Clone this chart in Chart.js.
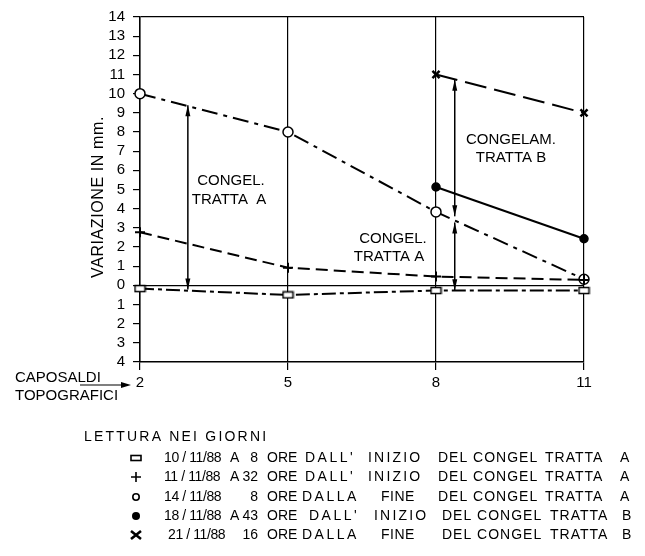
<!DOCTYPE html>
<html>
<head>
<meta charset="utf-8">
<script src="https://cdn.jsdelivr.net/npm/chart.js@4/dist/chart.umd.min.js"></script>
<style>
  html, body { margin: 0; padding: 0; background: #fff; }
  .canvas { width: 645px; height: 556px; }
</style>
</head>
<body>
<div class="canvas"><canvas id="chart" width="645" height="556"></canvas></div>
<script>
// caposaldi topografici (x positions)
const benchmarks = [2, 5, 8, 11]

// variazione in mm. (negative = below the zero line)
const read101188 = [-0.17, -0.5, -0.27, -0.27]
const read111188 = [2.77, 0.92, 0.46, 0.28]
const read141188 = [10, 8, 3.83, 0.32]
const read181188 = [null, null, 5.13, 2.43]
const read211188 = [null, null, 11, 9]

const yTicksMin = -4
const yTicksMax = 14

const legendTitle = 'LETTURA NEI GIORNI'
const legendDates = ['10 / 11/88', '11 / 11/88', '14 / 11/88', '18 / 11/88', '21 / 11/88']
const legendPrefix = ['A', 'A', '', 'A', '']
const legendHours = ['8', '32', '8', '43', '16']
const legendFrom = ["DALL'", "DALL'", 'DALLA', "DALL'", 'DALLA']
const legendWhen = ['INIZIO', 'INIZIO', 'FINE', 'INIZIO', 'FINE']
const legendTratta = ['A', 'A', 'A', 'B', 'B']

const FONT = '"Liberation Sans", Arial, sans-serif'

const toPoints = (vals) => benchmarks
  .map((x, i) => ({ x, y: vals[i] }))
  .filter(p => p.y !== null)

// flat hollow rectangle marker
const rectMarker = (() => {
  const c = document.createElement('canvas')
  c.width = 13
  c.height = 9
  const g = c.getContext('2d')
  g.fillStyle = '#fff'
  g.fillRect(1, 1, 11, 7)
  g.strokeStyle = '#000'
  g.lineWidth = 1.5
  g.strokeRect(1.5, 1.5, 10, 6)
  return c
})()

const arrowHead = (ctx, x, y, dir) => {
  // dir: -1 = pointing up, 1 = pointing down
  ctx.beginPath()
  ctx.moveTo(x, y)
  ctx.lineTo(x - 2.5, y - dir * 11)
  ctx.lineTo(x + 2.5, y - dir * 11)
  ctx.closePath()
  ctx.fill()
}

const drawArrow = (ctx, xs, ys, x, yTop, yBot) => {
  const px = xs.getPixelForValue(x)
  const t = ys.getPixelForValue(yTop)
  const b = ys.getPixelForValue(yBot)
  ctx.beginPath()
  ctx.moveTo(px, t)
  ctx.lineTo(px, b)
  ctx.stroke()
  arrowHead(ctx, px, t, -1)
  arrowHead(ctx, px, b, 1)
}

const spaced = (ctx, text, x, y, sp) => {
  ctx.letterSpacing = sp + 'px'
  ctx.fillText(text, x, y)
  ctx.letterSpacing = '0px'
}

function drawSymbol (ctx, i, x, y) {
  ctx.save()
  ctx.lineWidth = 1.6
  ctx.beginPath()
  if (i === 0) {
    ctx.strokeRect(x - 5, y - 2.5, 10, 5)
  } else if (i === 1) {
    ctx.moveTo(x - 5, y); ctx.lineTo(x + 5, y)
    ctx.moveTo(x, y - 5); ctx.lineTo(x, y + 5)
    ctx.stroke()
  } else if (i === 2) {
    ctx.arc(x, y, 3.2, 0, Math.PI * 2)
    ctx.stroke()
  } else if (i === 3) {
    ctx.arc(x, y, 4, 0, Math.PI * 2)
    ctx.fill()
  } else {
    ctx.lineWidth = 2.6
    ctx.moveTo(x - 5, y - 4); ctx.lineTo(x + 5, y + 4)
    ctx.moveTo(x + 5, y - 4); ctx.lineTo(x - 5, y + 4)
    ctx.stroke()
  }
  ctx.restore()
}

const extras = {
  id: 'extras',
  afterDraw (chart) {
    const ctx = chart.ctx
    const xs = chart.scales.x
    const ys = chart.scales.y
    ctx.save()
    ctx.fillStyle = '#000'
    ctx.strokeStyle = '#000'
    ctx.lineWidth = 1.5

    // arrows
    drawArrow(ctx, xs, ys, 2.97, 9.4, -0.22)
    drawArrow(ctx, xs, ys, 8.38, 10.72, 3.6)
    drawArrow(ctx, xs, ys, 8.38, 3.28, -0.25)

    // labels inside the plot
    ctx.font = '15px ' + FONT
    ctx.textAlign = 'center'
    ctx.textBaseline = 'middle'
    ctx.fillText('CONGEL.', 231, 181)
    ctx.fillText('TRATTA  A', 229, 200)
    ctx.fillText('CONGELAM.', 511, 140)
    ctx.fillText('TRATTA B', 511, 158)
    ctx.fillText('CONGEL.', 393, 239)
    ctx.fillText('TRATTA A', 389, 257)

    // y title
    ctx.save()
    ctx.translate(99, 197)
    ctx.rotate(-Math.PI / 2)
    ctx.font = '16px ' + FONT
    spaced(ctx, 'VARIAZIONE IN mm.', 0, 0, 0.6)
    ctx.restore()

    // x title
    ctx.textAlign = 'left'
    ctx.font = '15px ' + FONT
    ctx.fillText('CAPOSALDI', 15, 378)
    ctx.fillText('TOPOGRAFICI', 15, 396)
    ctx.lineWidth = 1.2
    ctx.beginPath()
    ctx.moveTo(80, 385)
    ctx.lineTo(124, 385)
    ctx.stroke()
    ctx.beginPath()
    ctx.moveTo(131, 385)
    ctx.lineTo(121, 382)
    ctx.lineTo(121, 388)
    ctx.closePath()
    ctx.fill()

    // legend
    ctx.font = '14px ' + FONT
    spaced(ctx, legendTitle, 84, 437, 2.2)
    const rowY = [458, 477, 497, 516, 535]
    legendDates.forEach((d, i) => {
      const y = rowY[i]
      const late = i >= 3
      drawSymbol(ctx, i, 136, y)
      ctx.textAlign = 'left'
      spaced(ctx, d, i === 4 ? 168 : 164, y, -0.4)
      if (legendPrefix[i]) ctx.fillText(legendPrefix[i], 230, y)
      ctx.textAlign = 'right'
      ctx.fillText(legendHours[i], 258, y)
      ctx.textAlign = 'left'
      ctx.fillText('ORE', 267, y)
      const isFrom = legendFrom[i] === "DALL'"
      spaced(ctx, legendFrom[i], isFrom ? (late ? 309 : 305) : 302, y, 2.5)
      spaced(ctx, legendWhen[i], isFrom ? (late ? 374 : 368) : 381, y, isFrom ? 2.2 : 0.5)
      spaced(ctx, 'DEL CONGEL', late ? 442 : 438, y, 1)
      spaced(ctx, 'TRATTA', late ? 550 : 545, y, 1)
      ctx.fillText(legendTratta[i], late ? 622 : 620, y)
    })
    ctx.restore()
  }
}

const lineDefaults = {
  borderColor: '#000',
  borderWidth: 2,
  pointBorderColor: '#000',
  pointBorderWidth: 1.5,
  tension: 0,
  fill: false,
  clip: false
}

const ctx = document.getElementById('chart').getContext('2d')
// eslint-disable-next-line
new Chart(ctx, {
  type: 'line',
  data: {
    datasets: [
      {
        ...lineDefaults,
        label: '10/11/88',
        data: toPoints(read101188),
        borderDash: [14, 4, 4, 4],
        pointStyle: rectMarker
      },
      {
        ...lineDefaults,
        label: '11/11/88',
        data: toPoints(read111188),
        borderDash: [12, 6],
        pointStyle: 'cross',
        pointRadius: 5,
        pointBorderWidth: 2
      },
      {
        ...lineDefaults,
        label: '14/11/88',
        data: toPoints(read141188),
        borderDash: [16, 6, 4, 6],
        pointStyle: 'circle',
        pointRadius: 5,
        pointBackgroundColor: '#fff'
      },
      {
        ...lineDefaults,
        label: '18/11/88',
        data: toPoints(read181188),
        pointStyle: 'circle',
        pointRadius: 4,
        pointBackgroundColor: '#000'
      },
      {
        ...lineDefaults,
        label: '21/11/88',
        data: toPoints(read211188),
        borderDash: [22, 8],
        pointStyle: 'crossRot',
        pointRadius: 5,
        pointBorderWidth: 2.5
      }
    ]
  },
  options: {
    responsive: false,
    animation: false,
    layout: { padding: { top: 11, right: 61, left: 0, bottom: 0 } },
    plugins: {
      legend: { display: false },
      tooltip: { enabled: false }
    },
    scales: {
      x: {
        type: 'linear',
        min: 2,
        max: 11,
        afterFit: (s) => { s.height = 194 },
        afterBuildTicks: (s) => { s.ticks = benchmarks.map(v => ({ value: v })) },
        ticks: {
          color: '#000',
          font: { family: FONT, size: 15 },
          padding: 4,
          autoSkip: false,
          maxRotation: 0
        },
        grid: { color: '#000', lineWidth: 1.2, tickLength: 8, tickColor: '#000' },
        border: { color: '#000', width: 1.5 }
      },
      y: {
        min: yTicksMin,
        max: yTicksMax,
        afterFit: (s) => { s.width = 140 },
        ticks: {
          stepSize: 1,
          autoSkip: false,
          color: '#000',
          font: { family: FONT, size: 15 },
          padding: 8,
          callback: (v) => Math.abs(v)
        },
        grid: {
          color: (c) => (c.tick && (c.tick.value === 0 || c.tick.value === yTicksMax)) ? '#000' : 'rgba(0,0,0,0)',
          lineWidth: 1.2,
          tickLength: 7,
          tickColor: '#000'
        },
        border: { color: '#000', width: 1.5 }
      }
    }
  },
  plugins: [extras]
})
</script>
</body>
</html>
